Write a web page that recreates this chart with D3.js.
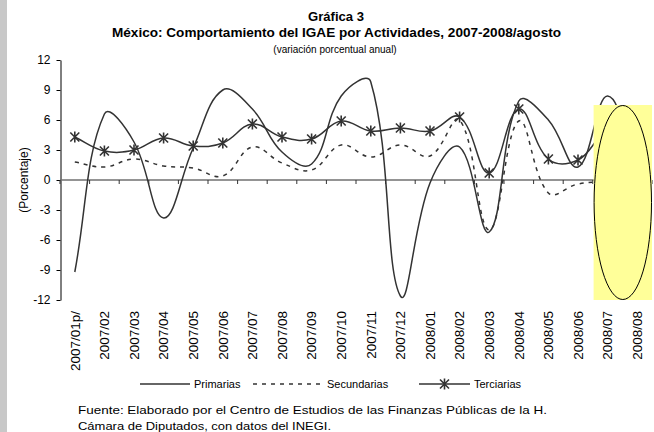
<!DOCTYPE html>
<html>
<head>
<meta charset="utf-8">
<script src="https://cdnjs.cloudflare.com/ajax/libs/d3/7.8.5/d3.min.js"></script>
<style>
  body { margin: 0; background: #fff; }
  text { font-family: "Liberation Sans", Arial, sans-serif; fill: #000; }
</style>
</head>
<body>
<div id="chart"></div>
<script>
let months = ["2007/01p/", "2007/02", "2007/03", "2007/04", "2007/05", "2007/06", "2007/07", "2007/08", "2007/09", "2007/10",
  "2007/11", "2007/12", "2008/01", "2008/02", "2008/03", "2008/04", "2008/05", "2008/06", "2008/07", "2008/08"];
let primarias = [-9.2, 6.6, 3.8, -3.8, 3.2, 9.0, 7.1, 2.8, 1.6, 8.4, 9.8, -11.6, -0.3, 3.3, -5.2, 7.9, 6.0, 1.3, 8.4, 1.0];
let secundarias = [1.8, 1.3, 2.1, 1.4, 1.2, 0.4, 3.3, 1.7, 1.0, 3.5, 2.3, 3.5, 2.4, 6.0, -5.0, 5.9, -1.3, -0.4, -0.2, -0.2];
let terciarias = [4.3, 2.9, 3.0, 4.2, 3.4, 3.7, 5.6, 4.3, 4.1, 5.9, 4.9, 5.2, 4.9, 6.3, 0.7, 7.1, 2.1, 2.0, 4.8, 4.0];
let yTicks = [-12, -9, -6, -3, 0, 3, 6, 9, 12];

let w = 654, h = 432;
let padLeft = 60, padRight = 652, padTop = 60, padBottom = 300;

const svg = d3.select("#chart")
  .append("svg")
  .attr("width", w)
  .attr("height", h);

// gray strip on the left border
svg.append("rect")
  .attr("x", 0).attr("y", 0)
  .attr("width", 7).attr("height", h)
  .attr("fill", "#c8c8c8");

const xBand = d3.scaleBand()
  .domain(months)
  .range([padLeft, padRight]);
const xScale = d => xBand(d) + xBand.bandwidth() / 2;

const yScale = d3.scaleLinear()
  .domain([-12, 12])
  .range([padBottom, padTop]);

// titles
svg.append("text")
  .attr("x", 336).attr("y", 21)
  .attr("text-anchor", "middle")
  .style("font-size", "12px").style("font-weight", "bold")
  .attr("textLength", 56).attr("lengthAdjust", "spacingAndGlyphs")
  .text("Gráfica 3");
svg.append("text")
  .attr("x", 336.5).attr("y", 37)
  .attr("text-anchor", "middle")
  .style("font-size", "12px").style("font-weight", "bold")
  .attr("textLength", 449).attr("lengthAdjust", "spacingAndGlyphs")
  .text("México: Comportamiento del IGAE  por Actividades, 2007-2008/agosto");
svg.append("text")
  .attr("x", 335).attr("y", 53)
  .attr("text-anchor", "middle")
  .style("font-size", "10px")
  .text("(variación porcentual anual)");

// y axis
const yAxis = d3.axisLeft(yScale)
  .tickValues(yTicks)
  .tickFormat(d => String(d))
  .tickSizeInner(4)
  .tickSizeOuter(0)
  .tickPadding(6);
let gy = svg.append("g")
  .attr("id", "y-axis")
  .attr("transform", "translate(" + (padLeft + 0.5) + ",0)")
  .call(yAxis);
gy.select(".domain").attr("stroke", "#000");
gy.selectAll(".tick line").attr("stroke", "#000");
gy.selectAll("text").style("font-size", "12px").style("font-family", "'Liberation Sans', Arial, sans-serif");

svg.append("text")
  .attr("transform", "translate(28," + yScale(0) + ") rotate(-90)")
  .attr("text-anchor", "middle")
  .style("font-size", "12px")
  .text("(Porcentaje)");

// zero line with category ticks
let y0 = yScale(0);
svg.append("line")
  .attr("x1", padLeft).attr("x2", padRight)
  .attr("y1", y0).attr("y2", y0)
  .attr("stroke", "#707070")
  .attr("stroke-width", 1.6);
svg.selectAll(".xtick")
  .data(months.map(m => xBand(m)).concat([padRight]))
  .enter()
  .append("line")
  .attr("class", "xtick")
  .attr("x1", d => d).attr("x2", d => d)
  .attr("y1", y0).attr("y2", y0 + 4)
  .attr("stroke", "#333")
  .attr("stroke-width", 1);

// category labels
svg.selectAll(".xlabel")
  .data(months)
  .enter()
  .append("text")
  .attr("class", "xlabel")
  .attr("transform", d => "translate(" + xScale(d) + ",311) rotate(-90)")
  .attr("text-anchor", "end")
  .attr("dy", "0.36em")
  .style("font-size", "13.5px")
  .text(d => d);

// Excel-like smoothing: bezier arms scaled by the length of each segment
let smooth = (values, t) => {
  let pts = values.map((v, i) => [xScale(months[i]), yScale(v)]);
  let dist = (a, b) => Math.hypot(b[0] - a[0], b[1] - a[1]);
  let p = d3.path();
  p.moveTo(pts[0][0], pts[0][1]);
  for (let i = 0; i < pts.length - 1; i++) {
    let p0 = pts[i - 1] || pts[i], p1 = pts[i], p2 = pts[i + 1], p3 = pts[i + 2] || pts[i + 1];
    let d01 = dist(p0, p1), d12 = dist(p1, p2), d23 = dist(p2, p3);
    let f1 = t * d12 / (d01 + d12), f2 = t * d12 / (d12 + d23);
    p.bezierCurveTo(
      p1[0] + (p2[0] - p0[0]) * f1, p1[1] + (p2[1] - p0[1]) * f1,
      p2[0] - (p3[0] - p1[0]) * f2, p2[1] - (p3[1] - p1[1]) * f2,
      p2[0], p2[1]);
  }
  return p.toString();
};

svg.append("path")
  .attr("d", smooth(secundarias, 0.4))
  .attr("fill", "none")
  .attr("stroke", "#333")
  .attr("stroke-width", 1.5)
  .attr("stroke-dasharray", "4,5");

svg.append("path")
  .attr("d", smooth(primarias, 0.4))
  .attr("fill", "none")
  .attr("stroke", "#333")
  .attr("stroke-width", 1.5);

svg.append("path")
  .attr("d", smooth(terciarias, 0.4))
  .attr("fill", "none")
  .attr("stroke", "#333")
  .attr("stroke-width", 1.5);

let star = "M-4.5,-4.5L4.5,4.5M-4.5,4.5L4.5,-4.5M0,-5.5L0,5.5";
svg.selectAll(".star")
  .data(terciarias)
  .enter()
  .append("path")
  .attr("class", "star")
  .attr("transform", (d, i) => "translate(" + xScale(months[i]) + "," + yScale(d) + ")")
  .attr("d", star)
  .attr("stroke", "#333")
  .attr("stroke-width", 1.6)
  .attr("fill", "none");

// yellow highlight over the last months
let hx0 = xScale("2008/07") - 14, hx1 = padRight;
let hy0 = yScale(7.5), hy1 = yScale(-12);
svg.append("rect")
  .attr("x", hx0).attr("y", hy0)
  .attr("width", hx1 - hx0).attr("height", hy1 - hy0)
  .attr("fill", "#ffff99");
svg.append("ellipse")
  .attr("cx", (hx0 + hx1) / 2).attr("cy", (hy0 + hy1) / 2)
  .attr("rx", (hx1 - hx0) / 2 - 0.5).attr("ry", (hy1 - hy0) / 2 - 0.5)
  .attr("fill", "#ffff99")
  .attr("stroke", "#000")
  .attr("stroke-width", 1);

// legend
let legendY = 384;
let legend = svg.append("g").attr("id", "legend");
let items = [
  { name: "Primarias", x1: 140, x2: 190, dash: null, marker: false },
  { name: "Secundarias", x1: 253, x2: 323, dash: "4,5", marker: false },
  { name: "Terciarias", x1: 419, x2: 470, dash: null, marker: true }
];
items.forEach(d => {
  legend.append("line")
    .attr("x1", d.x1).attr("x2", d.x2)
    .attr("y1", legendY).attr("y2", legendY)
    .attr("stroke", "#333")
    .attr("stroke-width", 1.5)
    .attr("stroke-dasharray", d.dash);
  if (d.marker) {
    legend.append("path")
      .attr("transform", "translate(" + (d.x1 + d.x2) / 2 + "," + legendY + ")")
      .attr("d", star)
      .attr("stroke", "#333")
      .attr("stroke-width", 1.6);
  }
  legend.append("text")
    .attr("x", d.x2 + 4).attr("y", legendY + 4)
    .style("font-size", "11px")
    .text(d.name);
});

// source note
svg.append("text")
  .attr("x", 78).attr("y", 414)
  .style("font-size", "11.5px")
  .attr("textLength", 469).attr("lengthAdjust", "spacingAndGlyphs")
  .text("Fuente: Elaborado por el Centro de Estudios de las Finanzas Públicas de la H.");
svg.append("text")
  .attr("x", 78).attr("y", 430)
  .style("font-size", "11.5px")
  .attr("textLength", 253).attr("lengthAdjust", "spacingAndGlyphs")
  .text("Cámara de Diputados, con datos del INEGI.");
</script>
</body>
</html>
